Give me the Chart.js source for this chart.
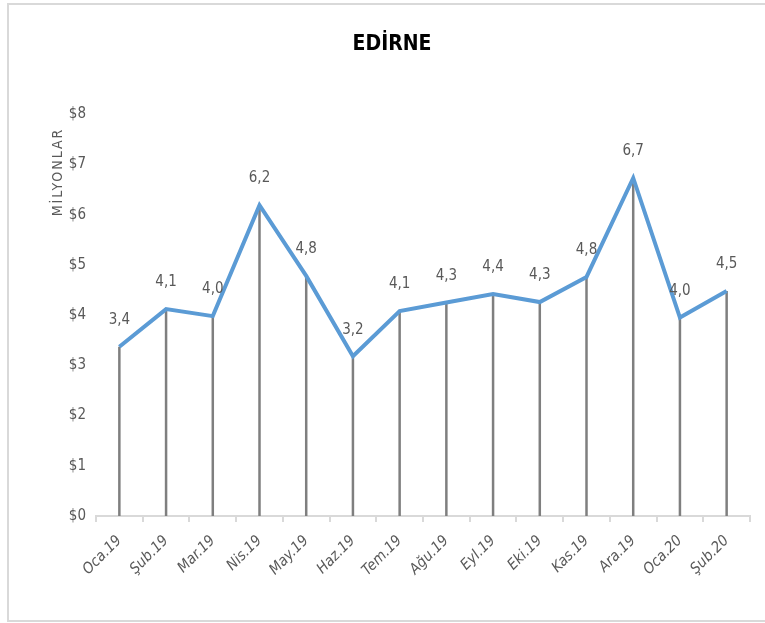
<!DOCTYPE html>
<html>
<head>
<meta charset="utf-8">
<script src="https://cdn.jsdelivr.net/npm/chart.js@4"></script>
<style>
  body { margin: 0; background: #fff; }
  canvas { display: block; }
</style>
</head>
<body>
<canvas id="edirneChart" width="765" height="623"></canvas>
<script>
// aylar ve değerler (milyon $)
const months = ['Oca.19', 'Şub.19', 'Mar.19', 'Nis.19', 'May.19', 'Haz.19', 'Tem.19',
                'Ağu.19', 'Eyl.19', 'Eki.19', 'Kas.19', 'Ara.19', 'Oca.20', 'Şub.20'];
const values = [3.37, 4.12, 3.98, 6.19, 4.78, 3.18, 4.08, 4.25, 4.42, 4.26, 4.76, 6.73, 3.95, 4.48];
const yTicks = [0, 1, 2, 3, 4, 5, 6, 7, 8];

const FONT = "'Liberation Sans Narrow', 'DejaVu Sans Condensed', 'Open Sans', sans-serif";
const GRAY = '#595959';

// kenarlık + dikey düşüş çizgileri + etiketler
const extras = {
    id: 'extras',
    beforeDraw(chart) {
        const ctx = chart.ctx;
        ctx.save();
        ctx.strokeStyle = '#d9d9d9';
        ctx.lineWidth = 2;
        ctx.strokeRect(8, 4, 800, 617);
        // eksen başlığı
        ctx.fillStyle = GRAY;
        ctx.font = '14px ' + FONT;
        ctx.letterSpacing = '2px';
        ctx.translate(58, 172);
        ctx.rotate(-Math.PI / 2);
        ctx.textAlign = 'center';
        ctx.textBaseline = 'middle';
        ctx.fillText('MİLYONLAR', 0, 0);
        ctx.restore();
    },
    beforeDatasetsDraw(chart) {
        const ctx = chart.ctx;
        const yBase = chart.scales.y.getPixelForValue(0);
        ctx.save();
        ctx.strokeStyle = '#7f7f7f';
        ctx.lineWidth = 2.5;
        chart.getDatasetMeta(0).data.forEach(pt => {
            ctx.beginPath();
            ctx.moveTo(pt.x, pt.y);
            ctx.lineTo(pt.x, yBase);
            ctx.stroke();
        });
        ctx.restore();
    },
    afterDatasetsDraw(chart) {
        const ctx = chart.ctx;
        ctx.save();
        ctx.fillStyle = GRAY;
        ctx.font = '15px ' + FONT;
        ctx.textAlign = 'center';
        ctx.textBaseline = 'bottom';
        chart.getDatasetMeta(0).data.forEach((pt, i) => {
            ctx.fillText(values[i].toFixed(1).replace('.', ','), pt.x, pt.y - 19);
        });
        ctx.restore();
    }
};

const ctx = document.getElementById('edirneChart').getContext('2d');
new Chart(ctx, {
    type: 'line',
    data: {
        labels: months,
        datasets: [{
            data: values,
            borderColor: '#5b9bd5',
            borderWidth: 4,
            pointRadius: 0,
            tension: 0,
            fill: false
        }]
    },
    options: {
        responsive: false,
        animation: false,
        layout: { padding: { left: 34, right: 15, top: 0, bottom: 0 } },
        plugins: {
            legend: { display: false },
            tooltip: { enabled: false },
            title: {
                display: true,
                text: 'EDİRNE',
                color: '#000',
                font: { family: FONT, size: 21, weight: 'bold', lineHeight: 1.2 },
                padding: { top: 32, bottom: 57 }
            }
        },
        scales: {
            x: {
                offset: true,
                grid: { offset: true, drawOnChartArea: false, color: '#d9d9d9', tickLength: 6, lineWidth: 2 },
                border: { color: '#d9d9d9', width: 2 },
                ticks: {
                    color: GRAY,
                    font: { family: FONT, size: 15, style: 'italic' },
                    minRotation: 45,
                    maxRotation: 45,
                    autoSkip: false,
                    padding: 10
                },
                afterFit(scale) { scale.height = 107; }
            },
            y: {
                min: yTicks[0],
                max: yTicks[yTicks.length - 1],
                grid: { display: false, tickLength: 0 },
                border: { display: false },
                afterBuildTicks(scale) { scale.ticks = yTicks.map(v => ({ value: v })); },
                ticks: {
                    color: GRAY,
                    font: { family: FONT, size: 15 },
                    padding: 10,
                    callback: v => '$' + v
                },
                afterFit(scale) { scale.width = 62; }
            }
        }
    },
    plugins: [extras]
});
</script>
</body>
</html>
